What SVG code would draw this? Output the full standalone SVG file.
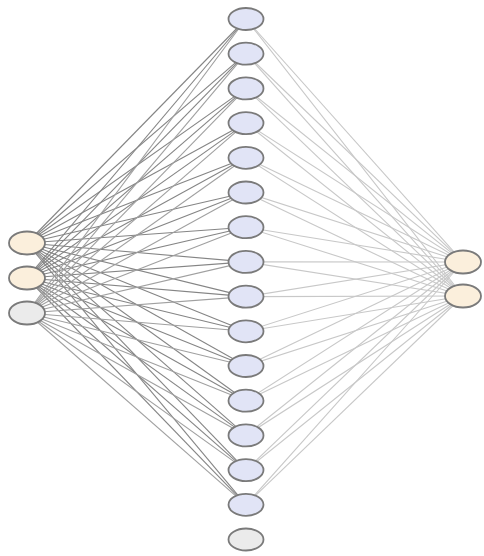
<svg xmlns="http://www.w3.org/2000/svg" width="484" height="556" viewBox="0 0 484 556">
<style>
.n{stroke:#7a7a7a;stroke-width:1.8}
.in{fill:#fbefdc}
.hid{fill:#e1e4f6}
.b{fill:#ebebeb}
.l1{stroke:#858585;stroke-width:1.1}
.l2{stroke:#a0a0a0;stroke-width:1.1}
.r{stroke:#c8c8c8;stroke-width:1.1}
</style>
<rect width="484" height="556" fill="#ffffff"/>
<g id="connectors">
<g class="l1">
<line x1="27" y1="243" x2="246" y2="19"/><line x1="27" y1="243" x2="246" y2="53.7"/><line x1="27" y1="243" x2="246" y2="88.4"/><line x1="27" y1="243" x2="246" y2="123.1"/><line x1="27" y1="243" x2="246" y2="157.8"/><line x1="27" y1="243" x2="246" y2="192.5"/><line x1="27" y1="243" x2="246" y2="227.2"/><line x1="27" y1="243" x2="246" y2="261.9"/><line x1="27" y1="243" x2="246" y2="296.6"/><line x1="27" y1="243" x2="246" y2="331.3"/><line x1="27" y1="243" x2="246" y2="366"/><line x1="27" y1="243" x2="246" y2="400.7"/><line x1="27" y1="243" x2="246" y2="435.4"/><line x1="27" y1="243" x2="246" y2="470.1"/><line x1="27" y1="243" x2="246" y2="504.8"/>
<line x1="27" y1="278" x2="246" y2="19"/><line x1="27" y1="278" x2="246" y2="53.7"/><line x1="27" y1="278" x2="246" y2="88.4"/><line x1="27" y1="278" x2="246" y2="123.1"/><line x1="27" y1="278" x2="246" y2="157.8"/><line x1="27" y1="278" x2="246" y2="192.5"/><line x1="27" y1="278" x2="246" y2="227.2"/><line x1="27" y1="278" x2="246" y2="261.9"/><line x1="27" y1="278" x2="246" y2="296.6"/><line x1="27" y1="278" x2="246" y2="331.3"/><line x1="27" y1="278" x2="246" y2="366"/><line x1="27" y1="278" x2="246" y2="400.7"/><line x1="27" y1="278" x2="246" y2="435.4"/><line x1="27" y1="278" x2="246" y2="470.1"/><line x1="27" y1="278" x2="246" y2="504.8"/>
</g>
<g class="l2">
<line x1="27" y1="313" x2="246" y2="19"/><line x1="27" y1="313" x2="246" y2="53.7"/><line x1="27" y1="313" x2="246" y2="88.4"/><line x1="27" y1="313" x2="246" y2="123.1"/><line x1="27" y1="313" x2="246" y2="157.8"/><line x1="27" y1="313" x2="246" y2="192.5"/><line x1="27" y1="313" x2="246" y2="227.2"/><line x1="27" y1="313" x2="246" y2="261.9"/><line x1="27" y1="313" x2="246" y2="296.6"/><line x1="27" y1="313" x2="246" y2="331.3"/><line x1="27" y1="313" x2="246" y2="366"/><line x1="27" y1="313" x2="246" y2="400.7"/><line x1="27" y1="313" x2="246" y2="435.4"/><line x1="27" y1="313" x2="246" y2="470.1"/><line x1="27" y1="313" x2="246" y2="504.8"/>
</g>
<g class="r">
<line x1="246" y1="19" x2="463" y2="262"/><line x1="246" y1="53.7" x2="463" y2="262"/><line x1="246" y1="88.4" x2="463" y2="262"/><line x1="246" y1="123.1" x2="463" y2="262"/><line x1="246" y1="157.8" x2="463" y2="262"/><line x1="246" y1="192.5" x2="463" y2="262"/><line x1="246" y1="227.2" x2="463" y2="262"/><line x1="246" y1="261.9" x2="463" y2="262"/><line x1="246" y1="296.6" x2="463" y2="262"/><line x1="246" y1="331.3" x2="463" y2="262"/><line x1="246" y1="366" x2="463" y2="262"/><line x1="246" y1="400.7" x2="463" y2="262"/><line x1="246" y1="435.4" x2="463" y2="262"/><line x1="246" y1="470.1" x2="463" y2="262"/><line x1="246" y1="504.8" x2="463" y2="262"/>
<line x1="246" y1="19" x2="463" y2="296"/><line x1="246" y1="53.7" x2="463" y2="296"/><line x1="246" y1="88.4" x2="463" y2="296"/><line x1="246" y1="123.1" x2="463" y2="296"/><line x1="246" y1="157.8" x2="463" y2="296"/><line x1="246" y1="192.5" x2="463" y2="296"/><line x1="246" y1="227.2" x2="463" y2="296"/><line x1="246" y1="261.9" x2="463" y2="296"/><line x1="246" y1="296.6" x2="463" y2="296"/><line x1="246" y1="331.3" x2="463" y2="296"/><line x1="246" y1="366" x2="463" y2="296"/><line x1="246" y1="400.7" x2="463" y2="296"/><line x1="246" y1="435.4" x2="463" y2="296"/><line x1="246" y1="470.1" x2="463" y2="296"/><line x1="246" y1="504.8" x2="463" y2="296"/>
</g>
</g>
<g id="in1"><ellipse class="n in" cx="27" cy="243" rx="18" ry="11.5"/></g>
<g id="in2"><ellipse class="n in" cx="27" cy="278" rx="18" ry="11.5"/></g>
<g id="in_bias"><ellipse class="n b" cx="27" cy="313" rx="18" ry="11.5"/></g>
<g id="h1"><ellipse class="n hid" cx="246" cy="19" rx="17.5" ry="11"/></g>
<g id="h2"><ellipse class="n hid" cx="246" cy="53.7" rx="17.5" ry="11"/></g>
<g id="h3"><ellipse class="n hid" cx="246" cy="88.4" rx="17.5" ry="11"/></g>
<g id="h4"><ellipse class="n hid" cx="246" cy="123.1" rx="17.5" ry="11"/></g>
<g id="h5"><ellipse class="n hid" cx="246" cy="157.8" rx="17.5" ry="11"/></g>
<g id="h6"><ellipse class="n hid" cx="246" cy="192.5" rx="17.5" ry="11"/></g>
<g id="h7"><ellipse class="n hid" cx="246" cy="227.2" rx="17.5" ry="11"/></g>
<g id="h8"><ellipse class="n hid" cx="246" cy="261.9" rx="17.5" ry="11"/></g>
<g id="h9"><ellipse class="n hid" cx="246" cy="296.6" rx="17.5" ry="11"/></g>
<g id="h10"><ellipse class="n hid" cx="246" cy="331.3" rx="17.5" ry="11"/></g>
<g id="h11"><ellipse class="n hid" cx="246" cy="366" rx="17.5" ry="11"/></g>
<g id="h12"><ellipse class="n hid" cx="246" cy="400.7" rx="17.5" ry="11"/></g>
<g id="h13"><ellipse class="n hid" cx="246" cy="435.4" rx="17.5" ry="11"/></g>
<g id="h14"><ellipse class="n hid" cx="246" cy="470.1" rx="17.5" ry="11"/></g>
<g id="h15"><ellipse class="n hid" cx="246" cy="504.8" rx="17.5" ry="11"/></g>
<g id="h_bias"><ellipse class="n b" cx="246" cy="539.5" rx="17.5" ry="11"/></g>
<g id="out1"><ellipse class="n in" cx="463" cy="262" rx="18" ry="11.5"/></g>
<g id="out2"><ellipse class="n in" cx="463" cy="296" rx="18" ry="11.5"/></g>
</svg>
